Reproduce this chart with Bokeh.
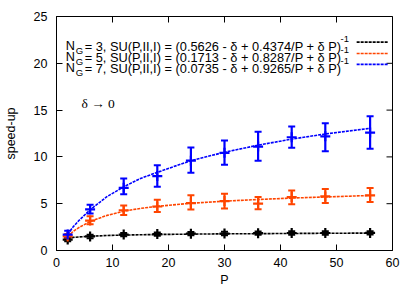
import math
from bokeh.plotting import figure
from bokeh.models import (ColumnDataSource, Whisker, TeeHead, Label,
                          SingleIntervalTicker, Arrow)
from bokeh.embed import file_html
from bokeh.resources import INLINE

# ---------------- data ----------------
P = [2, 6, 12, 18, 24, 30, 36, 42, 48, 56]

ng3_y = [1.17, 1.5, 1.7, 1.75, 1.8, 1.81, 1.85, 1.87, 1.87, 1.88]
ng3_lo = [1.0, 1.32, 1.52, 1.57, 1.62, 1.63, 1.67, 1.69, 1.69, 1.7]
ng3_hi = [1.34, 1.68, 1.88, 1.93, 1.98, 1.99, 2.03, 2.05, 2.05, 2.06]

ng5_y = [1.5, 3.2, 4.3, 4.7, 5.07, 5.28, 5.0, 5.71, 5.78, 5.89]
ng5_lo = [1.3, 2.8, 3.8, 4.1, 4.37, 4.5, 4.42, 4.93, 5.07, 5.18]
ng5_hi = [1.75, 3.65, 4.8, 5.43, 5.9, 6.07, 5.71, 6.42, 6.56, 6.67]

ng7_y = [1.7, 4.4, 6.7, 7.95, 9.6, 10.44, 11.1, 12.1, 12.2, 12.6]
ng7_lo = [1.45, 3.95, 6.0, 6.8, 8.3, 9.16, 9.6, 10.97, 10.6, 10.86]
ng7_hi = [2.1, 4.9, 7.7, 9.1, 11.0, 11.75, 12.7, 13.24, 13.6, 14.34]

# fitted curves
P_fit = [2, 3, 4, 6, 9, 12, 15, 18, 24, 30, 36, 42, 48, 56]
fit3 = [1.3, 1.4, 1.45, 1.52, 1.6, 1.65, 1.68, 1.71, 1.75, 1.78, 1.8, 1.82, 1.84, 1.86]
fit5 = [1.5, 2.05, 2.45, 3.1, 3.75, 4.2, 4.5, 4.72, 5.05, 5.27, 5.45, 5.6, 5.72, 5.88]
fit7 = [1.75, 2.55, 3.2, 4.35, 5.75, 6.8, 7.7, 8.35, 9.6, 10.5, 11.25, 11.9, 12.45, 13.05]

x_ticks = [0, 10, 20, 30, 40, 50, 60]
y_ticks = [0, 5, 10, 15, 20, 25]

legend_nums = ["3", "5", "7"]
legend_eqs = ["(0.5626 - \u03b4 + 0.4374/P + \u03b4 P)",
              "(0.1713 - \u03b4 + 0.8287/P + \u03b4 P)",
              "(0.0735 - \u03b4 + 0.9265/P + \u03b4 P)"]
colors = ["#000000", "#ff4500", "#0000ff"]

FONT = "Liberation Sans"

p = figure(width=415, height=291, x_range=(0, 60), y_range=(0, 25),
           output_backend="svg", toolbar_location=None,
           min_border_left=55, min_border_right=23, min_border_top=16, min_border_bottom=41)
p.xgrid.visible = False
p.ygrid.visible = False
p.outline_line_color = "black"
p.outline_line_width = 1
p.background_fill_color = "white"

p.xaxis.ticker = SingleIntervalTicker(interval=10, num_minor_ticks=0)
p.yaxis.ticker = SingleIntervalTicker(interval=5, num_minor_ticks=0)
for ax in (p.xaxis[0], p.yaxis[0]):
    ax.major_tick_in = 6
    ax.major_tick_out = 0
    ax.minor_tick_in = 0
    ax.minor_tick_out = 0
    ax.axis_line_color = "black"
    ax.major_tick_line_color = "black"
    ax.major_label_text_font = FONT
    ax.major_label_text_font_size = "12.5px"
    ax.major_label_text_color = "black"
    ax.axis_label_text_font = FONT
    ax.axis_label_text_font_size = "12.5px"
    ax.axis_label_text_font_style = "normal"
    ax.axis_label_text_color = "black"
p.xaxis.axis_label = "P"
p.yaxis.axis_label = "speed-up"
p.xaxis.major_label_standoff = 7
p.xaxis.axis_label_standoff = 3
p.yaxis.major_label_standoff = 9
p.yaxis.axis_label_standoff = 13

# mirrored inward ticks on top and right (clipped to the frame)
p.scatter([60] * len(y_ticks), y_ticks, marker="dash", size=12, line_color="black", line_width=1)
p.scatter(x_ticks, [25] * len(x_ticks), marker="dash", size=12, angle=math.pi / 2,
          line_color="black", line_width=1)

series = [(ng3_y, ng3_lo, ng3_hi, fit3), (ng5_y, ng5_lo, ng5_hi, fit5),
          (ng7_y, ng7_lo, ng7_hi, fit7)]

for (yv, lo, hi, fit), c in zip(series, colors):
    p.line(P_fit, fit, line_color=c, line_width=1.6, line_dash="3 1")
    src = ColumnDataSource(dict(x=P, y=yv, lo=lo, hi=hi))
    w = Whisker(base="x", lower="lo", upper="hi", source=src, dimension="height",
                line_color=c, line_width=2.2,
                upper_head=TeeHead(size=7, line_color=c, line_width=2),
                lower_head=TeeHead(size=7, line_color=c, line_width=2))
    p.add_layout(w)
    p.scatter("x", "y", source=src, marker="cross", size=10, line_color=c, line_width=2.2)

# legend (text built as pieces for sub/superscripts)
row_y = [21.84, 20.66, 19.49]
key_y = [22.26, 21.05, 19.88]
for num, eq, c, ry, ky in zip(legend_nums, legend_eqs, colors, row_y, key_y):
    p.add_layout(Label(x=1.66, y=ry, text="N", text_font=FONT, text_font_size="12.7px",
                       text_baseline="alphabetic", text_color="black"))
    p.add_layout(Label(x=1.66, y=ry, x_offset=10, y_offset=-4, text="G", text_font=FONT,
                       text_font_size="9.5px", text_baseline="alphabetic", text_color="black"))
    p.add_layout(Label(x=1.66, y=ry, x_offset=18.9,
                       text=" = " + num + ", SU(P,II,I) = " + eq,
                       text_font=FONT, text_font_size="12.8px",
                       text_baseline="alphabetic", text_color="black"))
    p.add_layout(Label(x=50.0, y=ry, x_offset=4, y_offset=7, text="-1", text_font=FONT,
                       text_font_size="9.5px", text_baseline="alphabetic", text_color="black"))
    p.add_layout(Arrow(x_start=53.6, y_start=ky, x_end=59.2, y_end=ky, start=None, end=None,
                       line_color=c, line_width=1.6, line_dash="3 1"))

p.add_layout(Label(x=4.45, y=15.66, text="\u03b4 \u2192 0", text_font="Liberation Serif",
                   text_font_size="13.5px", text_baseline="alphabetic", text_color="black"))

open("out.html", "w").write(file_html(p, INLINE))
